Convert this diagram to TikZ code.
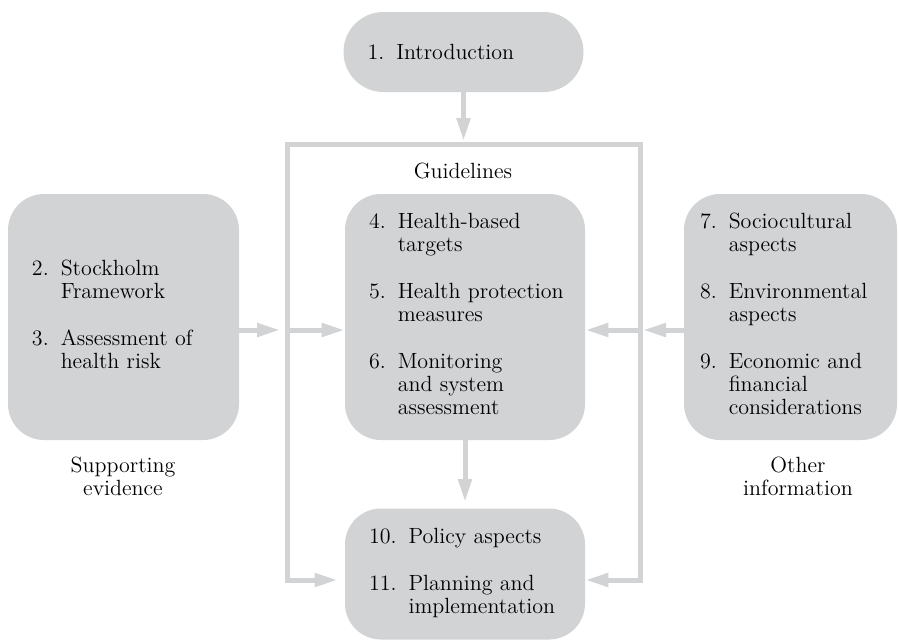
\documentclass[tikz,border=0pt]{standalone}
\usetikzlibrary{arrows.meta}
\definecolor{panel}{RGB}{209,211,212}

\begin{document}
\begin{tikzpicture}[x=0.5pt, y=-0.5pt,
			every node/.style = {font=\fontsize{11}{11.5}\selectfont, align=center},
			box/.style = {shape=rectangle, rounded corners=18pt, fill=panel, inner xsep=12pt, inner ysep=0pt, align=left},
			link/.style = {draw=panel, line width=2.5pt},
			flow/.style = {link, -{Triangle[length=11.5pt,width=6.5pt]}}]
			\useasboundingbox (0,0) rectangle (899,639);
			% boxes
			\node[box, text width=96pt, minimum height=40pt, rounded corners=20pt] (intro) at (463.5,52) {1.\hspace{6pt}Introduction};
			\node[box, text width=91.5pt, minimum height=123pt] (support) at (123.5,317) {\begin{tabular}{@{}l@{\hspace{6pt}}l@{}}2. & Stockholm\\ & Framework\\[12pt] 3. & Assessment of\\ & health risk\end{tabular}};
			\node[box, text width=96pt, minimum height=123pt] (guide) at (465,317) {\begin{tabular}{@{}l@{\hspace{6pt}}l@{}}4. & Health-based\\ & targets\\[12pt] 5. & Health protection\\ & measures\\[12pt] 6. & Monitoring\\ & and system\\ & assessment\end{tabular}};
			\node[box, text width=90.5pt, inner xsep=8pt, minimum height=123pt] (other) at (790.5,317) {\begin{tabular}{@{}l@{\hspace{6pt}}l@{}}7. & Sociocultural\\ & aspects\\[12pt] 8. & Environmental\\ & aspects\\[12pt] 9. & Economic and\\ & financial\\ & considerations\end{tabular}};
			\node[box, text width=96pt, minimum height=65.5pt] (policy) at (465,574) {\begin{tabular}{@{}l@{\hspace{6pt}}l@{}}10. & Policy aspects\\[12pt] 11. & Planning and\\ & implementation\end{tabular}};
			% labels
			\node (guidelbl) at (463,171) {Guidelines};
			\node (supportlbl) at (123,476) {Supporting\\evidence};
			\node (otherlbl) at (798,476) {Other\\information};
			% frame
			\coordinate (tl) at (287,144);
			\coordinate (tr) at (640,144);
			\coordinate (bl) at (287,580);
			\coordinate (br) at (640,580);
			\coordinate (la) at (287,330);
			\coordinate (ra) at (640,330);
			\draw[link, {Triangle[length=11.5pt,width=6.5pt]}-{Triangle[length=11.5pt,width=6.5pt]}, shorten <=3.5pt] (policy.west |- bl) -- (bl) -- (tl) -- (tr) -- (br) -- (policy.east |- br);
			\draw[flow, shorten >=1.5pt] (intro) -- (intro |- tl);
			\draw[flow, shorten >=3.5pt] (support.east |- la) -- (la);
			\draw[flow] (la) -- (guide.west |- la);
			\draw[flow, shorten >=1.5pt] (other.west |- ra) -- (ra);
			\draw[flow] (ra) -- (guide.east |- ra);
			\draw[flow, shorten >=3pt] (guide) -- (policy);
\end{tikzpicture}
\end{document}
